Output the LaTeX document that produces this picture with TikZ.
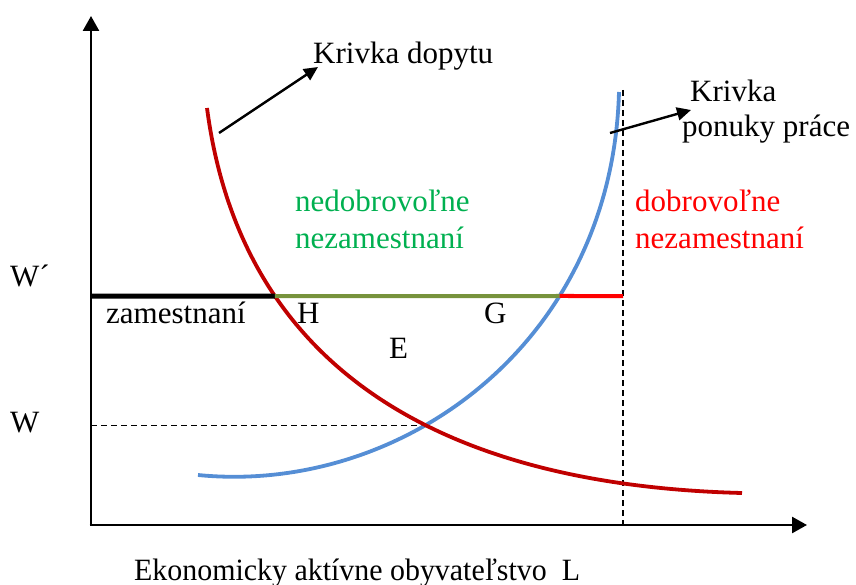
\documentclass[tikz,border=0pt]{standalone}
\usepackage{fontspec}
\setmainfont{Liberation Serif}
\usetikzlibrary{arrows.meta,intersections}
\definecolor{dred}{HTML}{C00000}
\definecolor{sblue}{HTML}{558ED5}
\definecolor{olive}{HTML}{77933C}
\definecolor{tgreen}{HTML}{00B050}
\definecolor{bred}{HTML}{FF0000}
\begin{document}
\begin{tikzpicture}[x=1pt,y=-1pt,
  txt/.style={anchor=base west,inner sep=0pt,font=\fontsize{31}{36}\selectfont},
  axis/.style={line width=2.6pt,-{Triangle[length=15pt,width=16pt]}},
  pointer/.style={line width=2.4pt,-{Triangle[length=14pt,width=13pt]}},
  curve/.style={line width=3.8pt},
  guide/.style={line width=1.3pt,dash pattern=on 6pt off 4pt}]
\useasboundingbox (0,0) rectangle (856,585);
% coordinates
\coordinate (O) at (91,525);
\coordinate (ytop) at (91,16);
\coordinate (xend) at (807,525);
\coordinate (Wl) at (91,296);
\coordinate (Dc) at (623,296);
\coordinate (dtop) at (623,90);
\coordinate (dbot) at (623,525);
\coordinate (dpS) at (219,133);
\coordinate (dpE) at (318,67);
\coordinate (spS) at (610,133);
\coordinate (spE) at (691,110);
% invisible paths for intersections
\path[name path=wline] (Wl) -- (Dc);
\path[name path=supply] (198,475) .. controls (400,495) and (612,345) .. (619,92);
\path[name path=demand] (207,108) .. controls (240,360) and (430,485) .. (742,493);
\path[name intersections={of=demand and wline,by=Hc}];
\path[name intersections={of=supply and wline,by=Gc}];
\path[name intersections={of=supply and demand,by=Ec}];
\coordinate (Wy) at (O |- Ec);
% guides
\draw[guide] (dtop) -- (dbot);
\draw[guide] (Wy) -- (Ec);
% curves
\draw[curve,sblue] (198,475) .. controls (400,495) and (612,345) .. (619,92);
\draw[curve,dred] (207,108) .. controls (240,360) and (430,485) .. (742,493);
% W' line
\draw[line width=5pt,black] (Wl) -- (Hc);
\draw[line width=4pt,olive] (Hc) -- (Gc);
\draw[line width=4pt,bred] (Gc) -- (Dc);
% axes
\draw[axis] (O) -- (ytop);
\draw[axis] ([xshift=-1.3pt]O) -- (xend);
% pointers
\draw[pointer] (dpS) -- (dpE);
\draw[pointer] (spS) -- (spE);
% labels
\node[txt] (kd) at (313,64) {Krivka dopytu};
\node[txt] (ks1) at (690,102) {Krivka};
\node[txt] (ks2) at (682,137) {ponuky práce};
\node[txt,text=tgreen] (nd1) at (295,212) {nedobrovoľne};
\node[txt,text=tgreen] (nd2) at (295,248) {nezamestnaní};
\node[txt,text=bred] (dn1) at (635,212) {dobrovoľne};
\node[txt,text=bred] (dn2) at (635,248) {nezamestnaní};
\node[txt] (wp) at (10,286) {W´};
\node[txt] (w) at (10,432) {W};
\node[txt] (zam) at (106,323) {zamestnaní};
\node[txt] (H) at (297,323) {H};
\node[txt] (G) at (484,323) {G};
\node[txt] (E) at (389,358) {E};
\node[txt,xscale=0.965] (xl) at (134,580) {Ekonomicky aktívne obyvateľstvo\ \ L};
\end{tikzpicture}
\end{document}
